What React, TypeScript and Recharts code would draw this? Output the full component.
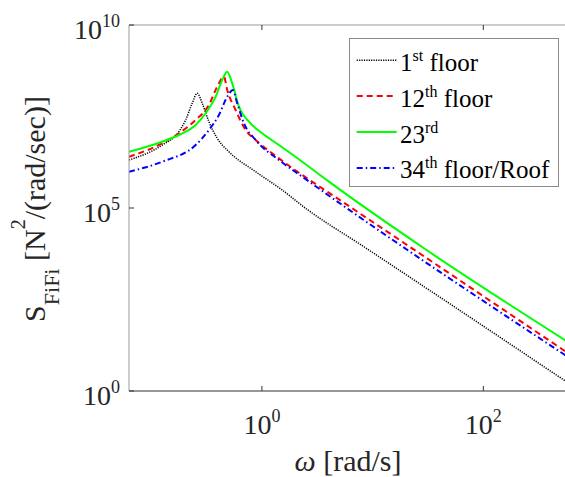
import React from "react";
import { LineChart, Line, XAxis, YAxis, Legend, ReferenceLine } from "recharts";

const FONT = "Liberation Serif";
const TEXT = "#262626";

// frequency (rad/s) and PSD values
const omegaFloor1 = [0.063, 0.1257, 0.178, 0.2045, 0.2346, 0.2603, 0.2889, 0.332, 0.3946, 0.5033, 0.877, 1.525, 2.482, 8.22, 570];
const sFloor1 = [2.05e6, 5.26e6, 1.22e7, 2.54e7, 7.26e7, 1.36e8, 7.26e7, 2.28e7, 8.02e6, 3.45e6, 9.82e5, 3.1e5, 9.8e4, 9.0e3, 1.75];

const omegaFloor12 = [0.063, 0.1257, 0.178, 0.252, 0.332, 0.3946, 0.4536, 0.486, 0.5786, 0.7124, 0.877, 1.424, 2.312, 3.505, 570];
const sFloor12 = [2.52e6, 5.86e6, 1.1e7, 2.54e7, 6.52e7, 2.06e8, 3.87e8, 1.68e8, 4.76e7, 1.35e7, 7.21e6, 2.28e6, 7.97e5, 3.45e5, 11.3];

const omegaFloor23 = [0.063, 0.1257, 0.178, 0.252, 0.31, 0.382, 0.438, 0.486, 0.539, 0.62, 0.763, 1.006, 1.424, 2.312, 4.03, 30.7, 570];
const sFloor23 = [3.45e6, 6.48e6, 9.88e6, 1.85e7, 3.87e7, 1.1e8, 3.14e8, 5.3e8, 2.55e8, 5.86e7, 2.28e7, 1.1e7, 5.26e6, 1.84e6, 5.24e5, 7.1e3, 22.7];

const omegaFloor34 = [0.063, 0.1257, 0.252, 0.332, 0.4088, 0.486, 0.547, 0.598, 0.688, 0.877, 1.424, 2.312, 3.762, 570];
const sFloor34 = [9.82e5, 1.84e6, 5.26e6, 1.35e7, 3.47e7, 1.1e8, 1.68e8, 7.26e7, 2.06e7, 7.21e6, 2.05e6, 7.17e5, 2.52e5, 8.85];

const xTicks = [1, 100];
const yTicks = [1, 1e5, 1e10];

const legendItems = [
  { base: "1", sup: "st", rest: " floor", color: "#000000", dash: "1.2 1.2", width: 1.5 },
  { base: "12", sup: "th", rest: " floor", color: "#ff0000", dash: "6 4", width: 2 },
  { base: "23", sup: "rd", rest: "", color: "#00ff00", dash: undefined, width: 2 },
  { base: "34", sup: "th", rest: " floor/Roof", color: "#0000ff", dash: "6 3 1.5 3", width: 2 },
];

const toData = (xs: number[], ys: number[]) => xs.map((x, i) => ({ x, y: ys[i] }));

const XTick = (props: any) => {
  const { x, payload } = props;
  const exp = Math.round(Math.log10(payload.value));
  return (
    <g>
      <line x1={x} x2={x} y1={391} y2={386} stroke="#333" />
      <line x1={x} x2={x} y1={25} y2={30} stroke="#333" />
      <text x={x} y={434} textAnchor="middle" fontFamily={FONT} fontSize={28} fill={TEXT}>
        <tspan>10</tspan>
        <tspan dy={-12} fontSize={18}>{exp}</tspan>
      </text>
    </g>
  );
};

const YTick = (props: any) => {
  const { y, payload } = props;
  const exp = Math.round(Math.log10(payload.value));
  return (
    <g>
      <line x1={129} x2={134} y1={y} y2={y} stroke="#333" />
      <text x={120} y={y + 14} textAnchor="end" fontFamily={FONT} fontSize={28} fill={TEXT}>
        <tspan>10</tspan>
        <tspan dy={-12} fontSize={18}>{exp}</tspan>
      </text>
    </g>
  );
};

const XLabel = () => (
  <text x={348} y={471} textAnchor="middle" fontFamily={FONT} fontSize={30} fill={TEXT}>
    <tspan fontStyle="italic">ω</tspan>
    <tspan>{" [rad/s]"}</tspan>
  </text>
);

const YLabel = () => (
  <text
    transform="translate(45,209) rotate(-90)"
    x={0}
    y={0}
    textAnchor="middle"
    fontFamily={FONT}
    fontSize={30}
    fill={TEXT}
  >
    <tspan>S</tspan>
    <tspan dy={14} fontSize={22}>FiFi</tspan>
    <tspan dy={-14}>{" [N"}</tspan>
    <tspan dy={-20} fontSize={20}>2</tspan>
    <tspan dy={20}>/(rad/sec)]</tspan>
  </text>
);

const LegendBox = () => (
  <div
    style={{
      width: 210,
      height: 149,
      border: "1px solid #8a8a8a",
      boxSizing: "border-box",
      background: "#fff",
    }}
  >
    <svg width={208} height={147} style={{ display: "block" }}>
      {legendItems.map((it, i) => {
        const base = 31.7 + i * 35.9;
        const ly = base - 10.5;
        return (
          <g key={i}>
            <line x1={6.7} x2={46.7} y1={ly} y2={ly} stroke={it.color} strokeWidth={it.width} strokeDasharray={it.dash} />
            <text x={50} y={base} fontFamily={FONT} fontSize={25} fill="#000" style={{ whiteSpace: "pre" }}>
              <tspan>{it.base}</tspan>
              <tspan dy={-10} fontSize={16}>{it.sup}</tspan>
              <tspan dy={10}>{it.rest}</tspan>
            </text>
          </g>
        );
      })}
    </svg>
  </div>
);

export default function App() {
  return (
    <div style={{ position: "absolute", left: 0, top: 0, width: 565, height: 477, overflow: "hidden", background: "#fff" }}>
      <LineChart width={600} height={477} margin={{ top: 25, right: 33, bottom: 0, left: 0 }}>
        <XAxis
          type="number"
          dataKey="x"
          scale="log"
          domain={[0.063, 570]}
          allowDataOverflow
          ticks={xTicks}
          tick={<XTick />}
          tickLine={false}
          tickSize={0}
          tickMargin={0}
          height={86}
          axisLine={{ stroke: "#333" }}
          label={<XLabel />}
        />
        <YAxis
          type="number"
          dataKey="y"
          scale="log"
          domain={[1, 1e10]}
          allowDataOverflow
          ticks={yTicks}
          tick={<YTick />}
          tickLine={false}
          tickSize={0}
          tickMargin={0}
          width={129}
          axisLine={{ stroke: "#999" }}
          label={<YLabel />}
        />
        <ReferenceLine y={1e10} stroke="#999" ifOverflow="visible" />
        <Legend
          layout="vertical"
          align="center"
          verticalAlign="middle"
          wrapperStyle={{ position: "absolute", left: 349, top: 38, width: 210, height: 149 }}
          content={<LegendBox />}
        />
        <Line data={toData(omegaFloor1, sFloor1)} dataKey="y" stroke="#000000" strokeWidth={1.5} strokeDasharray="1.2 1.2" dot={false} isAnimationActive={false} type="monotone" />
        <Line data={toData(omegaFloor12, sFloor12)} dataKey="y" stroke="#ff0000" strokeWidth={2} strokeDasharray="6 4" dot={false} isAnimationActive={false} type="monotone" />
        <Line data={toData(omegaFloor23, sFloor23)} dataKey="y" stroke="#00ff00" strokeWidth={2} dot={false} isAnimationActive={false} type="monotone" />
        <Line data={toData(omegaFloor34, sFloor34)} dataKey="y" stroke="#0000ff" strokeWidth={2} strokeDasharray="6 3 1.5 3" dot={false} isAnimationActive={false} type="monotone" />
      </LineChart>
    </div>
  );
}
